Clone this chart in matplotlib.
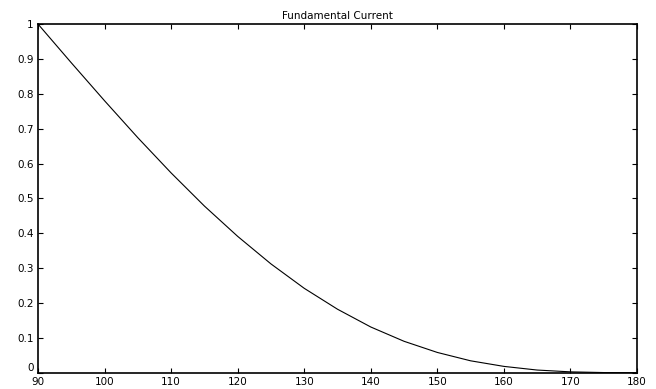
import matplotlib
matplotlib.use('Agg')
import matplotlib.pyplot as plt

# Values (every 5 degrees)
angle = [90, 95, 100, 105, 110, 115, 120, 125, 130, 135,
         140, 145, 150, 155, 160, 165, 170, 175, 180]
current = [1.0, 0.889, 0.780, 0.674, 0.573, 0.478, 0.391, 0.312, 0.242, 0.182,
           0.131, 0.090, 0.058, 0.034, 0.018, 0.0075, 0.0023, 0.0003, 0.0]

x_ticks = [90, 100, 110, 120, 130, 140, 150, 160, 170, 180]
y_ticks = [0, 0.1, 0.2, 0.3, 0.4, 0.5, 0.6, 0.7, 0.8, 0.9, 1]
y_labels = ['0', '0.1', '0.2', '0.3', '0.4', '0.5', '0.6', '0.7', '0.8', '0.9', '1']

plt.rcParams['font.family'] = ['DejaVu Sans']

fig = plt.figure(figsize=(6.56, 3.89), dpi=100)
ax = fig.add_axes([0.058, 0.042, 0.913, 0.896])
ax.plot(angle, current, color='black', linewidth=0.8)

ax.set_xlim(90, 180)
ax.set_ylim(0, 1)
ax.set_xticks(x_ticks)
ax.set_yticks(y_ticks)
ax.set_yticklabels(y_labels)
ax.tick_params(direction='in', top=True, right=True, labelsize=7.5, length=3.5, width=0.8)
ax.tick_params(axis='x', pad=3)
ax.tick_params(axis='y', pad=3)
# the "0" label sits a little above the corner so it clears "90"
ax.get_yticklabels()[0].set_verticalalignment('bottom')
for s in ax.spines.values():
    s.set_linewidth(1.2)
ax.set_title('Fundamental Current', fontsize=7.5, pad=4)

fig.savefig('out.png', dpi=100)
